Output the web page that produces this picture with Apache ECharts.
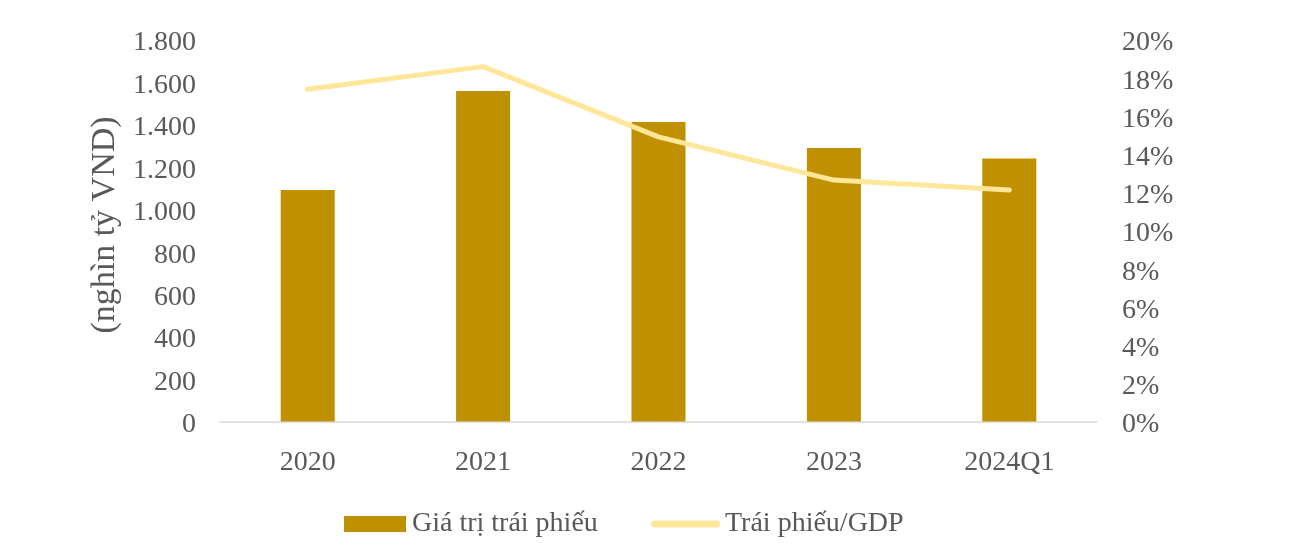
<!DOCTYPE html>
<html>
<head>
<meta charset="utf-8">
<script src="https://cdn.jsdelivr.net/npm/echarts@6/dist/echarts.min.js"></script>
<style>
html,body{margin:0;padding:0;background:#fff;}
#chart{width:1299px;height:552px;}
</style>
</head>
<body>
<div id="chart"></div>
<script>
const categories = ['2020', '2021', '2022', '2023', '2024Q1'];
const bondValue = [1091, 1557, 1411, 1289, 1239];
const bondToGdp = [17.39, 18.58, 14.9, 12.64, 12.12];
const leftTicks = { min: 0, max: 1800, interval: 200 };
const rightTicks = { min: 0, max: 20, interval: 2 };

const FONT = "'Liberation Serif', 'Times New Roman', serif";
const TXT = '#595959';
const richLbl = { v: { fontFamily: FONT, fontSize: 28, color: TXT, padding: [7, 0, 0, 0] } };

const chart = echarts.init(document.getElementById('chart'));
chart.setOption({
  animation: false,
  textStyle: { fontFamily: FONT, color: TXT },
  grid: { left: 220, right: 202, top: 39.5, bottom: 130.5, containLabel: false },
  legend: [
    {
      top: 510,
      left: 344,
      padding: 0,
      itemWidth: 62,
      itemHeight: 16,
      itemGap: 6,
      textStyle: { fontFamily: FONT, fontSize: 28, color: TXT, padding: [0, 0, 0, 1] },
      data: [{ name: 'Giá trị trái phiếu', icon: 'rect' }]
    },
    {
      top: 510,
      left: 651,
      padding: 0,
      itemWidth: 69,
      itemHeight: 7,
      textStyle: { fontFamily: FONT, fontSize: 28, color: TXT },
      data: [{ name: 'Trái phiếu/GDP', icon: 'path://M3.5,0 L65.5,0 A3.5,3.5 0 0 1 65.5,7 L3.5,7 A3.5,3.5 0 0 1 3.5,0 Z' }]
    }
  ],
  xAxis: {
    type: 'category',
    data: categories,
    axisLine: { lineStyle: { color: '#D9D9D9', width: 1.5 } },
    axisTick: { show: false },
    axisLabel: { fontFamily: FONT, fontSize: 28, color: TXT, margin: 27 }
  },
  yAxis: [
    {
      type: 'value',
      min: leftTicks.min, max: leftTicks.max, interval: leftTicks.interval,
      name: '(nghìn tỷ VND)',
      nameLocation: 'middle',
      nameGap: 90,
      nameTextStyle: { fontFamily: FONT, fontSize: 34, color: TXT, padding: [0, 0, 0, 11] },
      splitLine: { show: false },
      axisLine: { show: false },
      axisTick: { show: false },
      axisLabel: {
        margin: 24,
        rich: richLbl,
        formatter: v => '{v|' + v.toString().replace(/\B(?=(\d{3})+(?!\d))/g, '.') + '}'
      }
    },
    {
      type: 'value',
      min: rightTicks.min, max: rightTicks.max, interval: rightTicks.interval,
      splitLine: { show: false },
      axisLine: { show: false },
      axisTick: { show: false },
      axisLabel: { margin: 25, rich: richLbl, formatter: v => '{v|' + v + '%}' }
    }
  ],
  series: [
    {
      name: 'Giá trị trái phiếu',
      type: 'bar',
      data: bondValue,
      barWidth: 54,
      itemStyle: { color: '#BF9000' }
    },
    {
      name: 'Trái phiếu/GDP',
      type: 'line',
      yAxisIndex: 1,
      data: bondToGdp,
      symbol: 'none',
      lineStyle: { color: '#FFE699', width: 5, cap: 'round', join: 'round' },
      itemStyle: { color: '#FFE699' }
    }
  ]
});
</script>
</body>
</html>
